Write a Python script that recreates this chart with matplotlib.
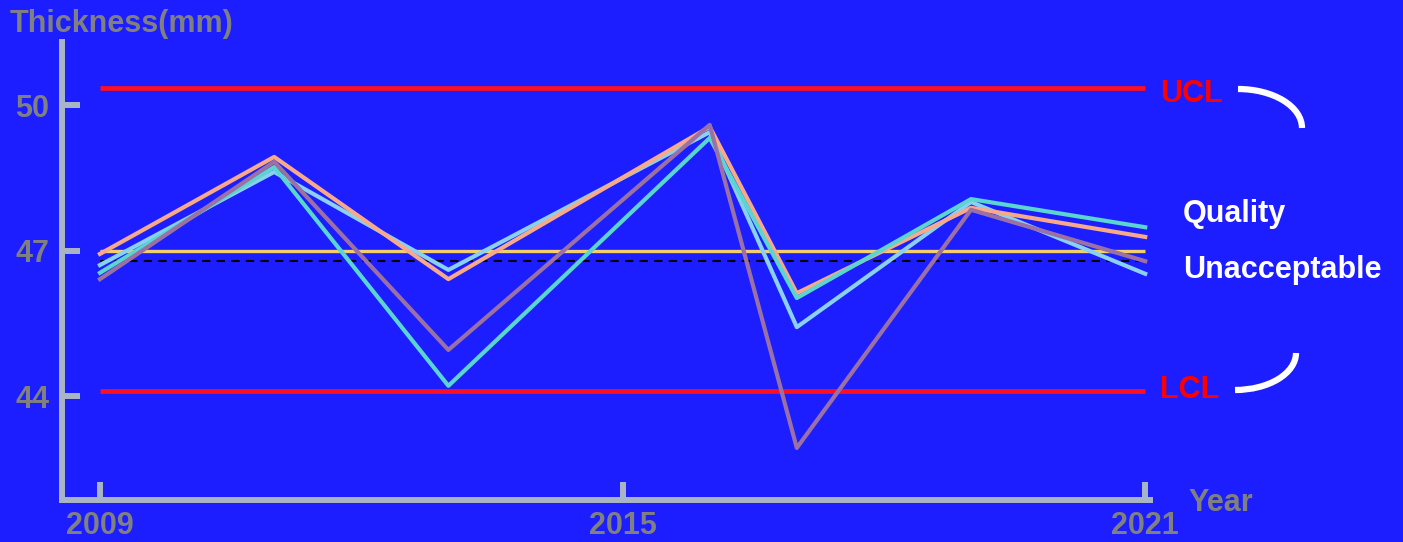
import matplotlib
matplotlib.use("Agg")
import matplotlib.pyplot as plt
from matplotlib.patches import Arc

# data
years = [2009, 2011, 2013, 2016, 2017, 2019, 2021]
orange = [46.94, 48.94, 46.42, 49.56, 46.13, 47.89, 47.29]
light_blue = [46.71, 48.63, 46.61, 49.45, 45.43, 48.01, 46.53]
turquoise = [46.55, 48.73, 44.22, 49.33, 46.03, 48.07, 47.49]
mauve = [46.42, 48.84, 44.96, 49.60, 42.94, 47.85, 46.79]
mean_line = 47.0
avg_line = 46.80
ucl = 50.36
lcl = 44.11
x_ticks = [2009, 2015, 2021]
y_ticks = [44, 47, 50]

bg = '#1c1eff'
axis_col = '#a9b5c6'
grey_txt = '#808080'
font = 'Liberation Sans'

fig = plt.figure(figsize=(14.03, 5.42), dpi=100)
fig.patch.set_facecolor(bg)
ax = fig.add_axes([62 / 1403, 42 / 542, (1150 - 62) / 1403, (500 - 42) / 542])
ax.set_facecolor(bg)

# control limits and centre lines
ax.hlines([ucl, lcl], 2009, 2021, color='#ff1020', lw=3.4, zorder=2)
ax.hlines(mean_line, 2009, 2021, color='#f2cf6b', lw=2.4, zorder=2)
ax.hlines(avg_line, 2009, 2021, color='black', lw=1.5, linestyles=(0, (4, 3)), zorder=2)

ax.plot(years, light_blue, color='#8ad0f0', lw=3, zorder=3)
ax.plot(years, orange, color='#f8a98a', lw=3, zorder=3)
ax.plot(years, turquoise, color='#5ad5cf', lw=3, zorder=4)
ax.plot(years, mauve, color='#9b70a4', lw=3, zorder=5)

ax.set_xlim(2008.564, 2021.055)
ax.set_ylim(41.866, 51.309)
ax.set_xticks(x_ticks)
ax.set_yticks(y_ticks)

for s in ['top', 'right']:
    ax.spines[s].set_visible(False)
for s in ['left', 'bottom']:
    ax.spines[s].set_color(axis_col)
    ax.spines[s].set_linewidth(4.3)
ax.tick_params(direction='in', length=13, width=4.3, color=axis_col,
               labelcolor=grey_txt, labelsize=22)
ax.tick_params(axis='x', pad=8)
ax.tick_params(axis='y', pad=9)
for lab in ax.get_xticklabels() + ax.get_yticklabels():
    lab.set_fontfamily(font)
    lab.set_fontweight('bold')

# overlay in pixel coordinates for labels and brackets
ov = fig.add_axes([0, 0, 1, 1])
ov.set_xlim(0, 1403)
ov.set_ylim(0, 542)
ov.axis('off')
ov.patch.set_alpha(0)

def txt(x, y, s, color, ha='left'):
    ov.text(x, 542 - y, s, color=color, fontsize=22, fontweight='bold',
            family=font, ha=ha, va='baseline')

txt(10, 32, 'Thickness(mm)', grey_txt)
txt(1188, 511, 'Year', grey_txt)
txt(1160, 102, 'UCL', '#ff0000')
txt(1160, 398, 'LCL', '#ff0000')
txt(1183, 222, 'Quality', 'white')
txt(1183, 278, 'Unacceptable', 'white')

ov.add_patch(Arc((1238, 542 - 128), 128, 78, theta1=0, theta2=90,
                 color='white', lw=4.5))
ov.add_patch(Arc((1235, 542 - 353), 122, 74, theta1=270, theta2=360,
                 color='white', lw=4.5))

fig.savefig('out.png', dpi=100, facecolor=bg)
